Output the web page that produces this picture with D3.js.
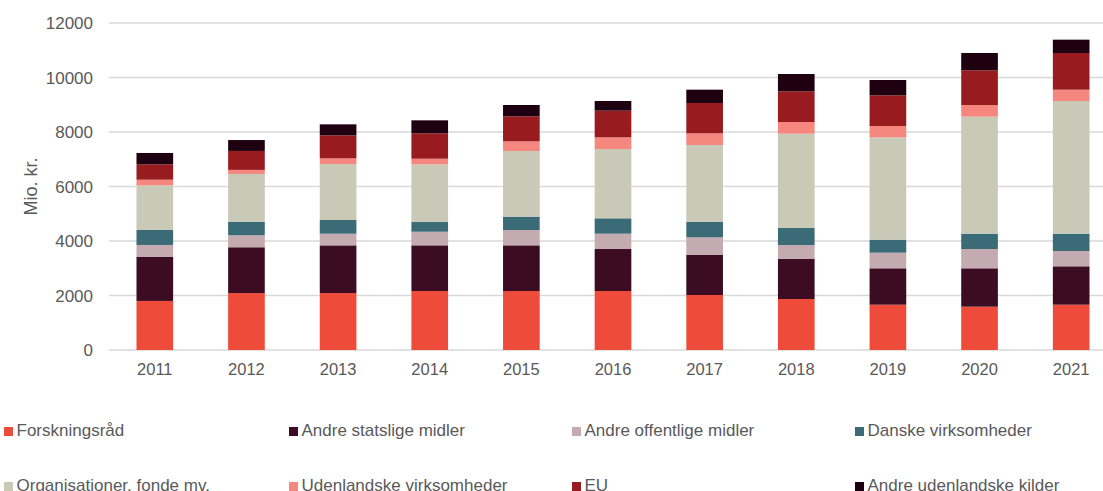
<!DOCTYPE html>
<html>
<head>
<meta charset="utf-8">
<script src="https://cdn.jsdelivr.net/npm/d3@7"></script>
<style>
  body { margin: 0; background: #fff; }
  svg text { font-family: "Liberation Sans", Arial, sans-serif; fill: #595959; }
</style>
</head>
<body>
<svg id="chart" width="1103" height="491"></svg>
<script>
const years = ['2011', '2012', '2013', '2014', '2015', '2016', '2017', '2018', '2019', '2020', '2021'];

const seriesNames = [
    'Forskningsråd', 'Andre statslige midler', 'Andre offentlige midler', 'Danske virksomheder',
    'Organisationer, fonde mv.', 'Udenlandske virksomheder', 'EU', 'Andre udenlandske kilder'
];

const seriesColors = ['#ef4b3a', '#3c0d22', '#c4aab1', '#3a6b76', '#c8c9b6', '#f5877f', '#981b20', '#1e0010'];

// Mio. kr. per year
const forskningsraad = [1800, 2090, 2090, 2165, 2165, 2165, 2018, 1872, 1663, 1590, 1663];
const andreStatslige = [1625, 1680, 1750, 1676, 1676, 1541, 1480, 1467, 1335, 1408, 1408];
const andreOffentlige = [430, 440, 427, 500, 563, 563, 637, 514, 573, 708, 562];
const danskeVirks = [550, 490, 503, 355, 489, 564, 562, 624, 477, 563, 636];
const organisationer = [1640, 1760, 2055, 2117, 2410, 2543, 2826, 3461, 3757, 4294, 4869];
const udenlandskeVirks = [205, 150, 208, 207, 355, 428, 428, 429, 415, 428, 415];
const eu = [565, 695, 845, 930, 917, 979, 1113, 1125, 1126, 1272, 1346];
const andreUdenlandske = [415, 400, 403, 478, 416, 355, 489, 636, 562, 636, 489];

const yTicks = [0, 2000, 4000, 6000, 8000, 10000, 12000];

const allSeries = [forskningsraad, andreStatslige, andreOffentlige, danskeVirks,
    organisationer, udenlandskeVirks, eu, andreUdenlandske];

const rows = years.map((y, i) => {
    const row = { year: y };
    seriesNames.forEach((name, s) => row[name] = allSeries[s][i]);
    return row;
});

const svg = d3.select('#chart');

const x = d3.scaleBand()
    .domain(years)
    .range([109, 1117])
    .paddingInner(0.6)
    .paddingOuter(0.3);

const y = d3.scaleLinear()
    .domain([0, 12000])
    .range([350, 23]);

// gridlines
svg.append('g')
    .selectAll('line')
    .data(yTicks)
    .join('line')
    .attr('x1', 109)
    .attr('x2', 1117)
    .attr('y1', d => y(d))
    .attr('y2', d => y(d))
    .attr('stroke', '#d9d9d9')
    .attr('stroke-width', 1.3);

// y tick labels
svg.append('g')
    .selectAll('text')
    .data(yTicks)
    .join('text')
    .attr('x', 93)
    .attr('y', d => y(d) + 6)
    .attr('text-anchor', 'end')
    .style('font-size', '17px')
    .text(d => d);

svg.append('text')
    .attr('transform', `translate(37, ${y(6000)}) rotate(-90)`)
    .attr('text-anchor', 'middle')
    .style('font-size', '18px')
    .text('Mio. kr.');

const stack = d3.stack().keys(seriesNames)(rows);

svg.append('g')
    .selectAll('g')
    .data(stack)
    .join('g')
    .attr('fill', (d, i) => seriesColors[i])
    .selectAll('rect')
    .data(d => d)
    .join('rect')
    .attr('x', d => x(d.data.year))
    .attr('width', x.bandwidth())
    .attr('y', d => y(d[1]))
    .attr('height', d => y(d[0]) - y(d[1]));

// x labels
svg.append('g')
    .selectAll('text')
    .data(years)
    .join('text')
    .attr('x', d => x(d) + x.bandwidth() / 2)
    .attr('y', 375)
    .attr('text-anchor', 'middle')
    .style('font-size', '16.5px')
    .text(d => d);

// legend
const legendX = [4, 289, 572, 855];
const legendY = [436, 491];

const legend = svg.append('g')
    .selectAll('g')
    .data(seriesNames)
    .join('g')
    .attr('transform', (d, i) => `translate(${legendX[i % 4]}, ${legendY[Math.floor(i / 4)]})`);

legend.append('rect')
    .attr('x', 0)
    .attr('y', -9)
    .attr('width', 9)
    .attr('height', 9)
    .attr('fill', (d, i) => seriesColors[i]);

legend.append('text')
    .attr('x', 12.5)
    .attr('y', 0)
    .style('font-size', '17px')
    .text(d => d);
</script>
</body>
</html>
